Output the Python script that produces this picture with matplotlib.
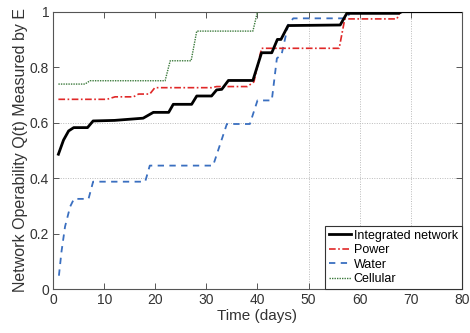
import numpy as np
import matplotlib
matplotlib.use('Agg')
import matplotlib.pyplot as plt

plt.rcParams['font.family'] = ['Liberation Sans', 'DejaVu Sans']

# Integrated network (break points)
t_int = [1, 2, 3, 4, 6.7, 7.8, 12, 17.6, 19.6, 22.6, 23.5, 27.1, 28.1, 31, 32, 33, 34.3,
         39.1, 40.8, 42.8, 43.9, 44.6, 46, 56.2, 57.5, 67.6, 68.3, 80]
q_int = [0.486, 0.537, 0.57, 0.582, 0.582, 0.606, 0.608, 0.616, 0.637, 0.637, 0.666, 0.666,
         0.696, 0.696, 0.718, 0.72, 0.752, 0.752, 0.852, 0.852, 0.90, 0.90, 0.95, 0.952,
         0.994, 0.994, 1.0, 1.0]

# Power
t_pow = [1, 10.5, 12.1, 15.7, 16.7, 18.9, 19.9, 31, 32, 38, 39.3, 40.8, 56, 57.1, 67.3, 68, 80]
q_pow = [0.684, 0.684, 0.693, 0.693, 0.703, 0.703, 0.726, 0.726, 0.73, 0.73, 0.747, 0.868,
         0.868, 0.974, 0.974, 1.0, 1.0]

# Water
t_wat = [1.1, 1.6, 2.3, 3.3, 4.05, 6.9, 7.8, 18, 18.9, 31.3, 34, 38.5, 40, 42.8, 43.8, 44.7,
         46, 47, 57.5, 58.2, 80]
q_wat = [0.048, 0.134, 0.225, 0.297, 0.325, 0.325, 0.387, 0.387, 0.445, 0.445, 0.595, 0.595,
         0.68, 0.68, 0.832, 0.844, 0.952, 0.976, 0.976, 1.0, 1.0]

# Cellular
t_cel = [1, 6.2, 7.2, 21.9, 22.9, 27, 28.1, 39.1, 40, 80]
q_cel = [0.739, 0.739, 0.751, 0.751, 0.823, 0.823, 0.93, 0.93, 1.0, 1.0]

xticks = [0, 10, 20, 30, 40, 50, 60, 70, 80]
yticks = [0, 0.2, 0.4, 0.6, 0.8, 1]

fig = plt.figure(figsize=(4.7, 3.33), dpi=100)
ax = fig.add_axes([0.1134, 0.1321, 0.8689, 0.8328])

# only some grid lines survive in the original
for g in [0.4, 0.6]:
    ax.axhline(g, color='#bbbbbb', lw=0.7, ls=(0, (1, 1.5)), zorder=0)
for g in [50, 60, 70]:
    ax.axvline(g, color='#bbbbbb', lw=0.7, ls=(0, (1, 1.5)), zorder=0)

ax.plot(t_int, q_int, color='black', lw=2.0, label='Integrated network', zorder=4)
ax.plot(t_pow, q_pow, color='#e02828', lw=1.2, ls=(0, (4, 1.5, 1, 1.5)), label='Power', zorder=3.5)
ax.plot(t_wat, q_wat, color='#3a6fc0', lw=1.3, ls=(0, (3.5, 3)), label='Water', zorder=3.2)
ax.plot(t_cel, q_cel, color='#3c7a3c', lw=1.0, ls=(0, (1, 0.8)), label='Cellular', zorder=3.1)

ax.set_xlim(0, 80)
ax.set_ylim(0, 1)
ax.set_xticks(xticks)
ax.set_yticks(yticks)
ax.set_yticklabels(['0', '0.2', '0.4', '0.6', '0.8', '1'])
ax.tick_params(direction='in', top=True, right=True, length=4, width=0.7,
               labelsize=10, colors='#555555', labelcolor='#333333', pad=3)
for s in ax.spines.values():
    s.set_color('#555555')
    s.set_linewidth(0.8)
    s.set_zorder(2.5)

ax.set_xlabel('Time (days)', fontsize=11, color='#333333', labelpad=1)
ax.set_ylabel('Network Operability Q(t) Measured by E', fontsize=11.5, color='#333333', labelpad=1)

leg = ax.legend(loc='lower right', fontsize=9, borderaxespad=0, fancybox=False,
                handlelength=1.8, handletextpad=0.2, labelspacing=0.2, borderpad=0.3,
                framealpha=1)
leg.set_zorder(5)
leg.get_frame().set_edgecolor('#333333')
leg.get_frame().set_linewidth(0.8)

fig.savefig('out.png', dpi=100)
